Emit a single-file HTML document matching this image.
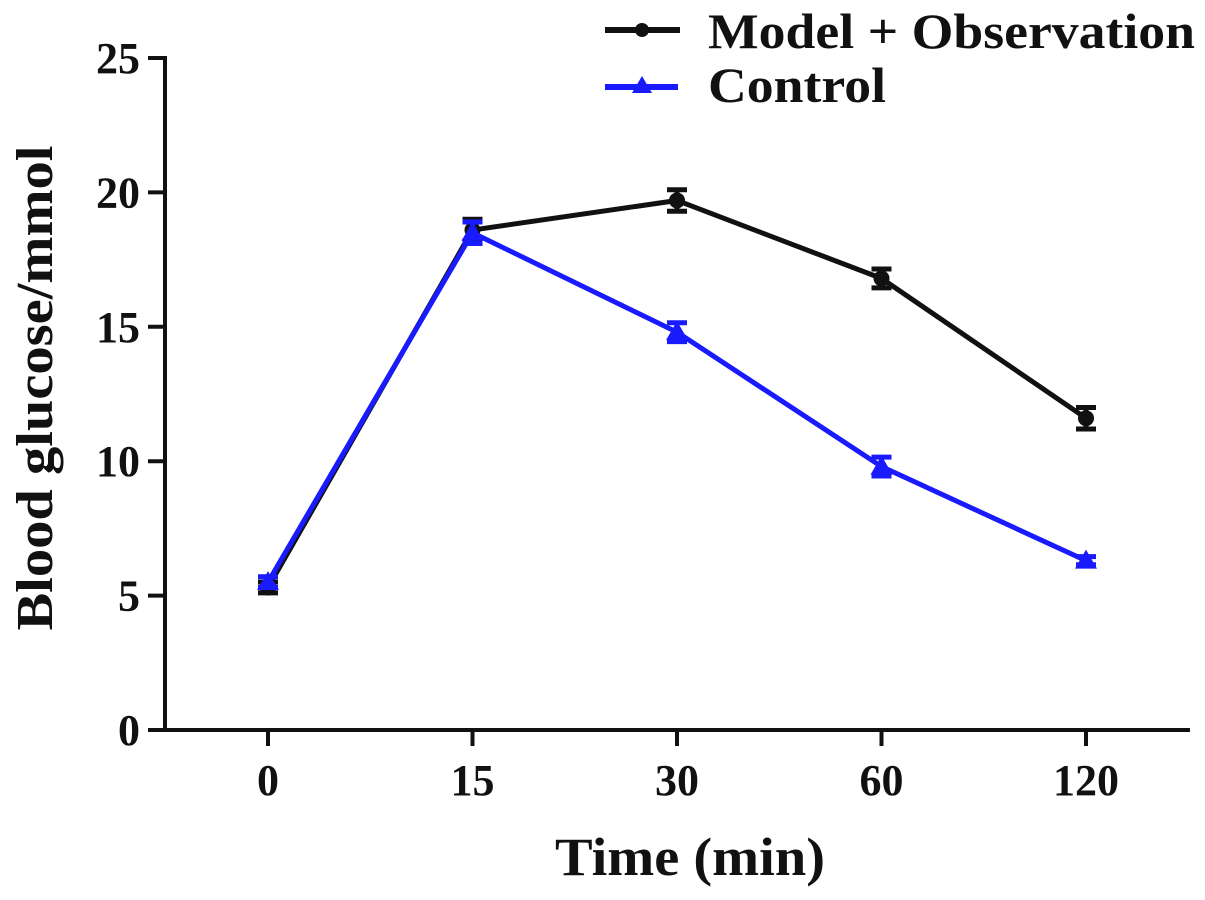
<!DOCTYPE html>
<html><head><meta charset="utf-8"><style>
body{margin:0;background:#fff}
svg{display:block;font-family:"Liberation Serif",serif;font-weight:bold}
</style></head><body>
<svg id="chart" width="1205" height="900">
<g id="axes"></g><g id="marks"></g>
<g>
<line x1="605" y1="30" x2="680" y2="30" stroke="#111" stroke-width="6"/>
<circle cx="642" cy="30" r="7" fill="#111"/>
<text x="708" y="48" font-size="50" textLength="487" lengthAdjust="spacingAndGlyphs" fill="#111">Model + Observation</text>
<line x1="605" y1="87" x2="678" y2="87" stroke="#1a1aff" stroke-width="6"/>
<path d="M642 76 L652 93 L632 93 Z" fill="#1a1aff"/>
<text x="708" y="102" font-size="50" textLength="178" lengthAdjust="spacingAndGlyphs" fill="#111">Control</text>
</g>
<text x="690" y="875" font-size="54" text-anchor="middle" textLength="270" lengthAdjust="spacingAndGlyphs" fill="#111">Time (min)</text>
<text transform="translate(52,388) rotate(-90)" font-size="52" text-anchor="middle" textLength="485" lengthAdjust="spacingAndGlyphs" fill="#111">Blood glucose/mmol</text>
</svg>
<script>
const categories=["0","15","30","60","120"];
const modelVals=[5.3,18.6,19.7,16.8,11.6];
const modelErr=[0.2,0.4,0.4,0.35,0.4];
const controlVals=[5.5,18.5,14.8,9.8,6.3];
const controlErr=[0.2,0.4,0.35,0.35,0.15];
const yTicks=[0,5,10,15,20,25];
const NS="http://www.w3.org/2000/svg";
function y(v){return 730-v*26.88;}
function x(i){return 268+i*204.5;}
function mk(t,a,p){const e=document.createElementNS(NS,t);for(const k in a)e.setAttribute(k,a[k]);p.appendChild(e);return e;}
const ax=document.getElementById('axes'),mg=document.getElementById('marks');
let l=mk('line',{x1:165,y1:56,x2:165,y2:732,stroke:'#111','stroke-width':4},ax);


l=mk('line',{x1:163,y1:730,x2:1190,y2:730,stroke:'#111','stroke-width':4},ax);


yTicks.forEach(v=>{
mk('line',{x1:148,y1:y(v),x2:165,y2:y(v),stroke:'#111','stroke-width':4},ax);
const t=mk('text',{x:140,y:y(v)+15,'font-size':44,'text-anchor':'end',fill:'#111'},ax);t.textContent=v;


});
categories.forEach((c,i)=>{
mk('line',{x1:x(i),y1:730,x2:x(i),y2:746,stroke:'#111','stroke-width':4},ax);
const t=mk('text',{x:x(i),y:795,'font-size':44,'text-anchor':'middle',fill:'#111'},ax);t.textContent=c;


});
function series(vals,err,col,name,tri){
const pl=mk('polyline',{points:vals.map((v,i)=>x(i)+','+y(v)).join(' '),fill:'none',stroke:col,'stroke-width':5},mg);


vals.forEach((v,i)=>{
const cx=x(i),cy=y(v),e=err[i]*26.88;
mk('line',{x1:cx,y1:cy-e,x2:cx,y2:cy+e,stroke:col,'stroke-width':5},mg);
mk('line',{x1:cx-10,y1:cy-e,x2:cx+10,y2:cy-e,stroke:col,'stroke-width':5},mg);
mk('line',{x1:cx-10,y1:cy+e,x2:cx+10,y2:cy+e,stroke:col,'stroke-width':5},mg);
const p=tri?mk('path',{d:`M${cx} ${cy-11}L${cx+11} ${cy+8}L${cx-11} ${cy+8}Z`,fill:col},mg):mk('circle',{cx:cx,cy:cy,r:8,fill:col},mg);


});
}
series(modelVals,modelErr,'#111','model-observation',false);
series(controlVals,controlErr,'#1a1aff','control',true);
</script>
</body></html>
